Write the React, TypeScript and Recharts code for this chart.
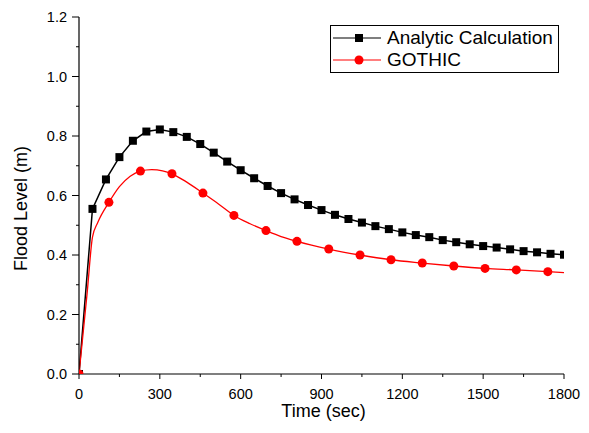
import React from "react";
import {
  LineChart,
  Line,
  XAxis,
  YAxis,
} from "recharts";

const FONT = "Arial, 'Liberation Sans', sans-serif";

// analytic calculation, one marker every 50 s
const analyticTime = [
  0, 50, 100, 150, 200, 250, 300, 350, 400, 450, 500, 550, 600, 650, 700, 750, 800, 850, 900,
  950, 1000, 1050, 1100, 1150, 1200, 1250, 1300, 1350, 1400, 1450, 1500, 1550, 1600, 1650,
  1700, 1750, 1800,
];
const analyticLevel = [
  0, 0.555, 0.654, 0.729, 0.784, 0.815, 0.822, 0.813, 0.797, 0.773, 0.744, 0.714, 0.685,
  0.658, 0.632, 0.608, 0.587, 0.568, 0.551, 0.535, 0.521, 0.509, 0.497, 0.487, 0.476, 0.467,
  0.46, 0.45, 0.443, 0.436, 0.43, 0.425, 0.419, 0.413, 0.409, 0.404, 0.401,
];

// GOTHIC: curve points, markers only where the circles are
const gothicTime = [
  0, 30, 50, 70, 111, 150, 190, 228, 270, 310, 345, 400, 460, 520, 575, 635, 694, 750, 809,
  927, 1043, 1158, 1274, 1391, 1507, 1623, 1740, 1800,
];
const gothicLevel = [
  0, 0.27, 0.46, 0.51, 0.577, 0.63, 0.665, 0.682, 0.687, 0.683, 0.673, 0.645, 0.608, 0.57,
  0.533, 0.505, 0.482, 0.462, 0.446, 0.42, 0.4, 0.384, 0.373, 0.363, 0.355, 0.35, 0.344,
  0.341,
];
const gothicMarker = [
  1, 0, 0, 0, 1, 0, 0, 1, 0, 0, 1, 0, 1, 0, 1, 0, 1, 0, 1, 1, 1, 1, 1, 1, 1, 1, 1, 0,
];

const xTicks = [0, 150, 300, 450, 600, 750, 900, 1050, 1200, 1350, 1500, 1650, 1800];
const yTicks = [0, 0.1, 0.2, 0.3, 0.4, 0.5, 0.6, 0.7, 0.8, 0.9, 1.0, 1.1, 1.2];

const analyticData = analyticTime.map((t, i) => ({ t, v: analyticLevel[i] }));
const gothicData = gothicTime.map((t, i) => ({ t, v: gothicLevel[i], marker: gothicMarker[i] === 1 }));

// eslint-disable-next-line @typescript-eslint/no-explicit-any
function XTick({ x, y, payload }: any) {
  const major = payload.value % 300 === 0;
  return (
    <g>
      <line x1={x} y1={y} x2={x} y2={y + (major ? 5 : 3)} stroke="#000" strokeWidth={1} />
      {major && (
        <text x={x} y={y + 25} textAnchor="middle" fontSize={14.5} fontFamily={FONT} fill="#000">
          {payload.value}
        </text>
      )}
    </g>
  );
}

// eslint-disable-next-line @typescript-eslint/no-explicit-any
function YTick({ x, y, payload }: any) {
  const major = Math.round(payload.value * 10) % 2 === 0;
  return (
    <g>
      <line x1={x} y1={y} x2={x - (major ? 7 : 3)} y2={y} stroke="#000" strokeWidth={1} />
      {major && (
        <text x={x - 12} y={y + 5} textAnchor="end" fontSize={14.5} fontFamily={FONT} fill="#000">
          {payload.value.toFixed(1)}
        </text>
      )}
    </g>
  );
}

// eslint-disable-next-line @typescript-eslint/no-explicit-any
function SquareDot({ cx, cy }: any) {
  if (cx == null || cy == null) return null;
  return <rect x={cx - 4} y={cy - 4} width={8} height={8} fill="#000" />;
}

// eslint-disable-next-line @typescript-eslint/no-explicit-any
function RedDot({ cx, cy, payload }: any) {
  if (cx == null || cy == null || !payload?.marker) return null;
  return <circle cx={cx} cy={cy} r={4.5} fill="#ff0000" />;
}

function ChartLegend() {
  const rows = [
    { name: "Analytic Calculation", color: "#000", square: true },
    { name: "GOTHIC", color: "#ff0000", square: false },
  ];
  return (
    <div
      style={{
        position: "absolute",
        left: 330,
        top: 25,
        width: 227,
        height: 45,
        border: "1px solid #000",
        background: "#fff",
        fontFamily: FONT,
        fontSize: 19,
        lineHeight: "22px",
        paddingTop: 1,
        boxSizing: "content-box",
      }}
    >
      {rows.map((r) => (
        <div key={r.name} style={{ display: "flex", alignItems: "center", height: 22 }}>
          <svg width={56} height={22} style={{ flexShrink: 0 }}>
            <line x1={2} y1={11} x2={50} y2={11} stroke={r.color} strokeWidth={1.2} />
            {r.square ? (
              <rect x={24} y={7} width={8} height={8} fill={r.color} />
            ) : (
              <circle cx={28} cy={11} r={4.5} fill={r.color} />
            )}
          </svg>
          <span style={{ color: "#000" }}>{r.name}</span>
        </div>
      ))}
    </div>
  );
}

export default function App() {
  return (
    <div style={{ position: "absolute", left: 0, top: 0, width: 589, height: 433, background: "#fff" }}>
      <LineChart width={589} height={433} margin={{ top: 17, right: 25, left: 0, bottom: 0 }}>
        <XAxis
          xAxisId="main"
          type="number"
          dataKey="t"
          domain={[0, 1800]}
          ticks={xTicks}
          interval={0}
          height={59}
          tickSize={0}
          tickMargin={0}
          tick={<XTick />}
          axisLine={{ stroke: "#000", strokeWidth: 1.2 }}
          tickLine={false}
          allowDataOverflow
          label={{
            content: ({ viewBox }: any) => (
              <text
                x={viewBox.x + viewBox.width / 2 + 2}
                y={viewBox.y + 43}
                textAnchor="middle"
                fontSize={18}
                fontFamily={FONT}
                fill="#000"
              >
                Time (sec)
              </text>
            ),
          }}
        />
        <XAxis
          xAxisId="top"
          orientation="top"
          type="number"
          dataKey="t"
          domain={[0, 1800]}
          height={0}
          tick={false}
          tickLine={false}
          axisLine={{ stroke: "#000", strokeWidth: 1.2 }}
        />
        <YAxis
          yAxisId="main"
          type="number"
          domain={[0, 1.2]}
          ticks={yTicks}
          interval={0}
          width={79}
          tickSize={0}
          tickMargin={0}
          tick={<YTick />}
          axisLine={{ stroke: "#000", strokeWidth: 1.2 }}
          tickLine={false}
          allowDataOverflow
          label={{
            content: ({ viewBox }: any) => (
              <text
                x={viewBox.x + 27}
                y={viewBox.y + viewBox.height / 2 + 13}
                transform={`rotate(-90 ${viewBox.x + 27} ${viewBox.y + viewBox.height / 2 + 13})`}
                textAnchor="middle"
                fontSize={18}
                fontFamily={FONT}
                fill="#000"
              >
                Flood Level (m)
              </text>
            ),
          }}
        />
        <YAxis
          yAxisId="right"
          orientation="right"
          type="number"
          domain={[0, 1.2]}
          width={0}
          tick={false}
          tickLine={false}
          axisLine={{ stroke: "#000", strokeWidth: 1.2 }}
        />
        <Line
          xAxisId="main"
          yAxisId="main"
          data={analyticData}
          dataKey="v"
          name="Analytic Calculation"
          type="linear"
          stroke="#000"
          strokeWidth={1.5}
          dot={<SquareDot />}
          activeDot={false}
          isAnimationActive={false}
        />
        <Line
          xAxisId="main"
          yAxisId="main"
          data={gothicData}
          dataKey="v"
          name="GOTHIC"
          type="monotone"
          stroke="#ff0000"
          strokeWidth={1.3}
          dot={<RedDot />}
          activeDot={false}
          isAnimationActive={false}
        />
      </LineChart>
      <ChartLegend />
    </div>
  );
}
